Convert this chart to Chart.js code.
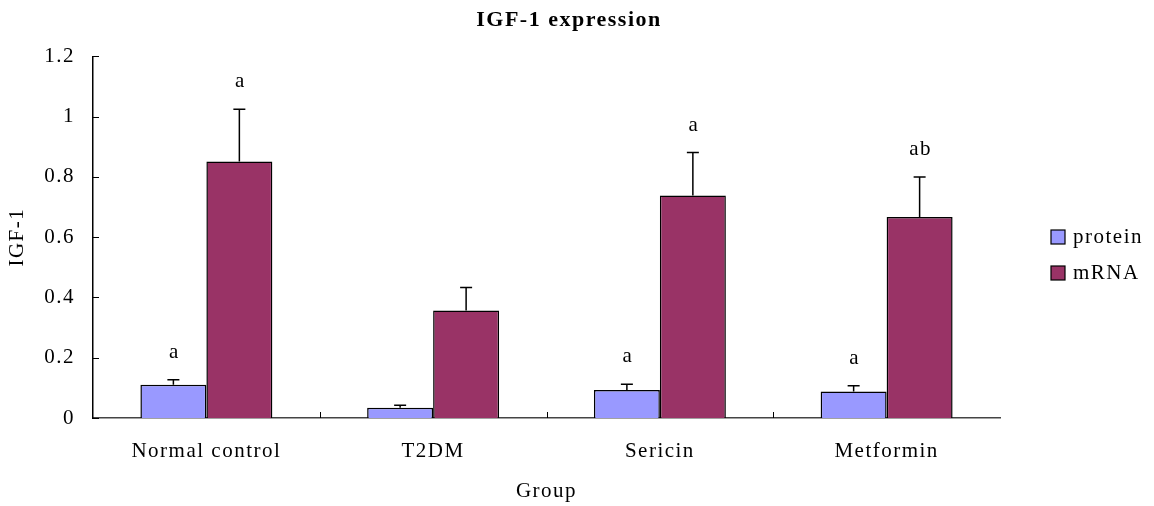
<!DOCTYPE html>
<html>
<head>
<meta charset="utf-8">
<script src="https://cdn.jsdelivr.net/npm/chart.js@4/dist/chart.umd.min.js"></script>
<style>
  html, body { margin: 0; padding: 0; background: #fff; }
  #wrap { width: 1154px; height: 506px; position: relative; }
</style>
</head>
<body>
<div id="wrap"><canvas id="c" width="1154" height="506"></canvas></div>
<script>
const categories = ['Normal control', 'T2DM', 'Sericin', 'Metformin'];
const proteinValues = [0.110, 0.034, 0.093, 0.088];
const proteinErrors = [0.017, 0.008, 0.019, 0.019];
const mrnaValues = [0.851, 0.357, 0.738, 0.667];
const mrnaErrors = [0.174, 0.076, 0.143, 0.133];
const proteinMarks = ['a', '', 'a', 'a'];
const mrnaMarks = ['a', '', 'a', 'ab'];
const yTicks = [0, 0.2, 0.4, 0.6, 0.8, 1, 1.2];

const FONT = '"Liberation Serif", "Times New Roman", serif';
const SPACING = '1.5px';

const spacingPlugin = {
  id: 'letterSpacing',
  beforeUpdate(chart) { chart.ctx.letterSpacing = SPACING; },
  beforeLayout(chart) { chart.ctx.letterSpacing = SPACING; },
  beforeDraw(chart) { chart.ctx.letterSpacing = SPACING; }
};

const errorBarPlugin = {
  id: 'errorBars',
  afterDatasetsDraw(chart) {
    const ctx = chart.ctx;
    const yScale = chart.scales.y;
    const errs = [proteinErrors, mrnaErrors];
    const marks = [proteinMarks, mrnaMarks];
    chart.data.datasets.forEach((ds, di) => {
      const meta = chart.getDatasetMeta(di);
      meta.data.forEach((bar, i) => {
        const v = ds.data[i];
        const top = yScale.getPixelForValue(v + errs[di][i]);
        ctx.save();
        ctx.strokeStyle = '#000';
        ctx.lineWidth = 1.5;
        ctx.beginPath();
        ctx.moveTo(bar.x, bar.y);
        ctx.lineTo(bar.x, top);
        ctx.moveTo(bar.x - 6, top);
        ctx.lineTo(bar.x + 6, top);
        ctx.stroke();
        if (marks[di][i]) {
          ctx.fillStyle = '#000';
          ctx.font = '21px ' + FONT;
          ctx.textAlign = 'center';
          ctx.textBaseline = 'alphabetic';
          ctx.fillText(marks[di][i], bar.x + 1, top - 22);
        }
        ctx.restore();
      });
    });
  }
};

const innerTicksPlugin = {
  id: 'innerTicks',
  afterDraw(chart) {
    const ctx = chart.ctx;
    const x = chart.scales.x, y = chart.scales.y;
    const area = chart.chartArea;
    ctx.save();
    ctx.strokeStyle = '#000';
    ctx.lineWidth = 1;
    ctx.beginPath();
    y.ticks.forEach(t => {
      const py = Math.round(y.getPixelForValue(t.value)) + 0.5;
      ctx.moveTo(area.left, py);
      ctx.lineTo(area.left + 6, py);
    });
    const n = categories.length;
    const w = (area.right - area.left) / n;
    for (let i = 1; i < n; i++) {
      const px = Math.round(x.getPixelForValue(i) - w / 2) + 0.5;
      ctx.moveTo(px, area.bottom);
      ctx.lineTo(px, area.bottom - 6);
    }
    ctx.stroke();
    ctx.restore();
  }
};

const legendPlugin = {
  id: 'sideLegend',
  afterDraw(chart) {
    const ctx = chart.ctx;
    const items = chart.data.datasets;
    ctx.save();
    ctx.font = '21px ' + FONT;
    ctx.textBaseline = 'middle';
    ctx.textAlign = 'left';
    items.forEach((ds, i) => {
      const cy = 237 + i * 36;
      ctx.fillStyle = ds.backgroundColor;
      ctx.fillRect(1051, cy - 7, 14, 14);
      ctx.strokeStyle = '#000';
      ctx.lineWidth = 1.2;
      ctx.strokeRect(1051, cy - 7, 14, 14);
      ctx.fillStyle = '#000';
      ctx.fillText(ds.label, 1073, cy);
    });
    ctx.restore();
  }
};

new Chart(document.getElementById('c'), {
  type: 'bar',
  data: {
    labels: categories,
    datasets: [
      { label: 'protein', data: proteinValues, backgroundColor: '#9999FF', borderColor: '#000', borderWidth: 1.5 },
      { label: 'mRNA', data: mrnaValues, backgroundColor: '#993366', borderColor: '#000', borderWidth: 1.5 }
    ]
  },
  options: {
    responsive: false,
    animation: false,
    layout: { padding: { top: 0, right: 16, bottom: 2, left: 0 } },
    datasets: { bar: { categoryPercentage: 0.582, barPercentage: 1.0 } },
    plugins: {
      legend: { display: false },
      tooltip: { enabled: false },
      title: {
        display: true,
        text: 'IGF-1 expression',
        color: '#000',
        font: { family: FONT, size: 22, weight: 'bold' },
        padding: { top: 7, bottom: 23 }
      }
    },
    scales: {
      x: {
        grid: { display: false, drawTicks: false },
        border: { display: true, color: '#444', width: 1.5 },
        ticks: { color: '#000', font: { family: FONT, size: 21 }, padding: 21, maxRotation: 0 },
        title: { display: true, text: 'Group', color: '#000', font: { family: FONT, size: 21 }, padding: { top: 10, bottom: 0 } },
        afterFit(s) { s.height = 86; }
      },
      y: {
        min: 0, max: 1.2,
        afterBuildTicks(s) { s.ticks = yTicks.map(v => ({ value: v })); },
        grid: { display: false, drawTicks: false },
        border: { display: true, color: '#000', width: 1.5 },
        ticks: { color: '#000', font: { family: FONT, size: 21 }, padding: 18, callback: v => String(v) },
        title: { display: true, text: 'IGF-1', color: '#000', font: { family: FONT, size: 21 }, padding: { top: 5, bottom: 0 } },
        afterFit(s) { s.width = 93; }
      },
      legendSpace: {
        type: 'linear',
        position: 'right',
        display: true,
        grid: { display: false, drawTicks: false },
        border: { display: false },
        ticks: { display: false },
        afterFit(s) { s.width = 138; }
      }
    }
  },
  plugins: [spacingPlugin, errorBarPlugin, innerTicksPlugin, legendPlugin]
});
</script>
</body>
</html>
